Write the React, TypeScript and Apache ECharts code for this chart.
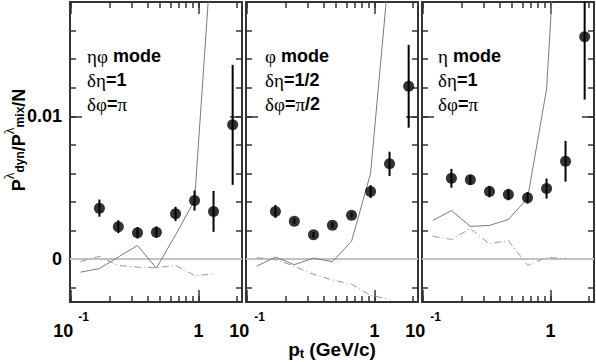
import React, { useEffect, useRef } from 'react';
import * as echarts from 'echarts';

// ---- shared axis data ----
const PT = [0.119, 0.167, 0.235, 0.332, 0.467, 0.66, 0.93, 1.31, 1.85];
const X_MIN = 0.0982;
const X_MAX = 2.19;
const Y_MIN = -0.003;
const Y_MAX = 0.018;
const X_TICKS_ALL = [0.1, 0.2, 0.3, 0.4, 0.5, 0.6, 0.7, 0.8, 0.9, 1, 2];
const X_TICKS_MAJOR = [0.1, 1];
const X_LABELS = [0.1, 1];
const Y_TICKS_ALL = [-0.002, 0, 0.002, 0.004, 0.006, 0.008, 0.01, 0.012, 0.014, 0.016];
const Y_TICKS_MAJOR = [0, 0.01];
const Y_LABELS = [0, 0.01];

// ---- panel 1: eta-phi mode ----
const ETAPHI_VAL = [0.00357, 0.00227, 0.00185, 0.00189, 0.00317, 0.0041, 0.00334, 0.0094];
const ETAPHI_ERR = [0.0006, 0.00045, 0.0004, 0.0004, 0.0005, 0.0007, 0.00143, 0.0042];
const ETAPHI_SOLID = [-0.00091, -0.00066, 0.00015, 0.00096, -0.00063, 0.0017, 0.0041, 0.0235];
const ETAPHI_DASHDOT = [-0.00016, 0.00019, -0.00044, -0.00056, -0.0006, -0.00044, -0.00114, -0.00105];

// ---- panel 2: phi mode ----
const PHI_VAL = [0.00334, 0.00266, 0.0017, 0.00238, 0.00308, 0.00473, 0.00667, 0.0121];
const PHI_ERR = [0.00045, 0.0002, 0.0002, 0.0002, 0.0002, 0.00045, 0.00085, 0.0029];
const PHI_SOLID = [-0.00049, 0.00014, -0.00039, 0.00007, -0.00018, 0.00125, 0.006, 0.0206];
const PHI_DASHDOT = [0.0001, -0.00002, -0.0005, -0.00106, -0.00146, -0.00175, -0.00254, -0.0028];

// ---- panel 3: eta mode ----
const ETA_VAL = [0.00566, 0.00555, 0.00473, 0.00452, 0.00429, 0.00494, 0.00685, 0.01557];
const ETA_ERR = [0.00066, 0.00035, 0.0004, 0.0004, 0.0004, 0.0007, 0.00143, 0.0044];
const ETA_SOLID = [0.0027, 0.0034, 0.00229, 0.00236, 0.00278, 0.00425, 0.0119, 0.034];
const ETA_DASHDOT = [0.0016, 0.00138, 0.00213, 0.00108, 0.00131, -0.00044, 0.00012, 0.00005];

const PANEL_TEXT = [
  ['{g|ηφ}{b| mode}', '{g|δη}{b|=1}', '{g|δφ}{b|=}{g|π}'],
  ['{g|φ}{b| mode}', '{g|δη}{b|=1/2}', '{g|δφ}{b|=}{g|π}{b|/2}'],
  ['{g|η}{b| mode}', '{g|δη}{b|=1}', '{g|δφ}{b|=}{g|π}'],
];

const PANELS = [
  { val: ETAPHI_VAL, err: ETAPHI_ERR, solid: ETAPHI_SOLID, dash: ETAPHI_DASHDOT },
  { val: PHI_VAL, err: PHI_ERR, solid: PHI_SOLID, dash: PHI_DASHDOT },
  { val: ETA_VAL, err: ETA_ERR, solid: ETA_SOLID, dash: ETA_DASHDOT },
];

const SANS = 'Liberation Sans, Arial, Helvetica, sans-serif';
const SERIF = 'Liberation Serif, Times New Roman, serif';
const FRAME = '#333';
const GRID_LEFT = [70, 246, 422];
const GRID_TOP = 2;
const GRID_W = 172;
const GRID_H = 300;
const TEXT_X = [87, 265, 438];

// y-axis title pieces: text, font, shift perpendicular to baseline (negative = raised)
const MAIN_FONT = 'bold 18px ' + SANS;
const SUP_FONT = '14px ' + SERIF;
const SUB_FONT = 'bold 12px ' + SANS;
const Y_TITLE = [
  { t: 'P', font: MAIN_FONT, dy: 0 },
  { t: 'λ', font: SUP_FONT, dy: -9 },
  { t: 'dyn', font: SUB_FONT, dy: 1.5 },
  { t: '/P', font: MAIN_FONT, dy: 0 },
  { t: 'λ', font: SUP_FONT, dy: -9 },
  { t: 'mix', font: SUB_FONT, dy: 1.5 },
  { t: '/N', font: MAIN_FONT, dy: 0 },
];

function measure(text: string, font: string) {
  const c = document.createElement('canvas').getContext('2d');
  if (!c) return text.length * 9;
  c.font = font;
  return c.measureText(text).width;
}

function buildOption() {
  const grid: any[] = [];
  const xAxis: any[] = [];
  const yAxis: any[] = [];
  const series: any[] = [];
  const graphic: any[] = [];

  PANELS.forEach((p, i) => {
    grid.push({
      left: GRID_LEFT[i], top: GRID_TOP, width: GRID_W, height: GRID_H,
      show: true, borderColor: FRAME, borderWidth: 2, backgroundColor: 'transparent',
    });
    const tickStyle = { color: FRAME, width: 1.5 };
    const baseX = {
      type: 'log', logBase: 10, min: X_MIN, max: X_MAX, gridIndex: i,
      axisLine: { show: false, onZero: false }, splitLine: { show: false }, axisLabel: { show: false },
    };
    const xLabel = {
      show: true,
      customValues: X_LABELS,
      margin: 9,
      formatter: (v: number) => (v < 0.5 ? '{b|10}{s|-1}' : '{b|1}'),
      rich: {
        b: { fontFamily: SANS, fontWeight: 'bold', fontSize: 18, color: '#000', lineHeight: 40 },
        s: { fontFamily: SANS, fontWeight: 'bold', fontSize: 12, color: '#000', verticalAlign: 'top', lineHeight: 14, padding: [0, 0, 0, 5] },
      },
    };
    xAxis.push(
      { ...baseX, position: 'bottom', axisTick: { show: true, inside: true, length: 6, customValues: X_TICKS_ALL, lineStyle: tickStyle } },
      { ...baseX, position: 'bottom', axisTick: { show: true, inside: true, length: 12, customValues: X_TICKS_MAJOR, lineStyle: tickStyle }, axisLabel: xLabel },
      { ...baseX, position: 'top', axisTick: { show: true, inside: true, length: 6, customValues: X_TICKS_ALL, lineStyle: tickStyle } },
      { ...baseX, position: 'top', axisTick: { show: true, inside: true, length: 12, customValues: X_TICKS_MAJOR, lineStyle: tickStyle } },
    );
    const baseY = {
      type: 'value', min: Y_MIN, max: Y_MAX, gridIndex: i,
      axisLine: { show: false, onZero: false }, splitLine: { show: false }, axisLabel: { show: false },
    };
    const yLabel = i === 0 ? {
      show: true, customValues: Y_LABELS, margin: 8,
      fontFamily: SANS, fontWeight: 'bold', fontSize: 18, color: '#000',
      formatter: (v: number) => (Math.abs(v) < 1e-9 ? '0' : '0.01'),
    } : { show: false };
    yAxis.push(
      { ...baseY, position: 'left', axisTick: { show: true, inside: true, length: 6, customValues: Y_TICKS_ALL, lineStyle: tickStyle } },
      { ...baseY, position: 'left', axisTick: { show: true, inside: true, length: 12, customValues: Y_TICKS_MAJOR, lineStyle: tickStyle }, axisLabel: yLabel },
      { ...baseY, position: 'right', axisTick: { show: true, inside: true, length: 6, customValues: Y_TICKS_ALL, lineStyle: tickStyle } },
      { ...baseY, position: 'right', axisTick: { show: true, inside: true, length: 12, customValues: Y_TICKS_MAJOR, lineStyle: tickStyle } },
    );

    const xi = 4 * i;
    const yi = 4 * i;
    const ptsX = PT.slice(1);
    series.push({
      type: 'line', xAxisIndex: xi, yAxisIndex: yi, silent: true, z: 3,
      data: p.solid.map((v, k) => [PT[k], v]),
      symbol: 'none', lineStyle: { color: '#7a7a7a', width: 1 },
      markLine: {
        silent: true, symbol: 'none', z: 1, label: { show: false },
        lineStyle: { color: '#c2c2c2', width: 2, type: 'solid' },
        data: [{ yAxis: 0 }],
      },
    });
    series.push({
      type: 'line', xAxisIndex: xi, yAxisIndex: yi, silent: true, z: 3,
      data: p.dash.map((v, k) => [PT[k], v]),
      symbol: 'none', lineStyle: { color: '#9a9a9a', width: 1, type: [7, 3, 1, 3] },
    });
    series.push({
      type: 'custom', xAxisIndex: xi, yAxisIndex: yi, silent: true, z: 4, clip: true,
      data: p.val.map((v, k) => [ptsX[k], v, p.err[k]]),
      renderItem: (params: any, api: any) => {
        const x = api.value(0);
        const y = api.value(1);
        const e = api.value(2);
        const a = api.coord([x, y + e]);
        const b = api.coord([x, y - e]);
        return {
          type: 'line',
          shape: { x1: a[0], y1: a[1], x2: b[0], y2: b[1] },
          style: { stroke: '#000', lineWidth: 2 },
        };
      },
    });
    series.push({
      type: 'scatter', xAxisIndex: xi, yAxisIndex: yi, silent: true, z: 5,
      data: p.val.map((v, k) => [ptsX[k], v]),
      symbol: 'circle', symbolSize: 11, itemStyle: { color: '#000' },
    });

    graphic.push({
      type: 'text', x: TEXT_X[i], y: 44, silent: true,
      style: {
        text: PANEL_TEXT[i].join('\n'),
        align: 'left', verticalAlign: 'top', fill: '#000',
        rich: {
          b: { fontFamily: SANS, fontWeight: 'bold', fontSize: 18, lineHeight: 24, fill: '#000' },
          g: { fontFamily: SERIF, fontSize: 19, lineHeight: 24, fill: '#000' },
        },
      },
    });
  });

  // rotated y-axis title built from measured pieces (reads bottom to top)
  const widths = Y_TITLE.map((f) => measure(f.t, f.font));
  const total = widths.reduce((a, b) => a + b, 0);
  const yc = 140;
  const xc = 18.5;
  let cum = 0;
  Y_TITLE.forEach((f, k) => {
    graphic.push({
      type: 'text', silent: true,
      x: xc + f.dy, y: yc + total / 2 - cum, rotation: Math.PI / 2,
      style: { text: f.t, font: f.font, fill: '#000', align: 'left', verticalAlign: 'middle' },
    });
    cum += widths[k];
  });

  graphic.push({
    type: 'text', x: 332, y: 349, silent: true,
    style: {
      text: '{m|p}{d|t}{m| (GeV/c)}',
      align: 'center', verticalAlign: 'middle', fill: '#000',
      rich: {
        m: { fontFamily: SANS, fontWeight: 'bold', fontSize: 19, lineHeight: 26, fill: '#000' },
        d: { fontFamily: SANS, fontWeight: 'bold', fontSize: 13, padding: [8, 0, 0, 0], fill: '#000' },
      },
    },
  });

  return {
    animation: false,
    backgroundColor: '#fff',
    grid, xAxis, yAxis, series, graphic,
  };
}

export default function App() {
  const ref = useRef<HTMLDivElement>(null);
  useEffect(() => {
    if (!ref.current) return;
    const chart = echarts.init(ref.current, undefined, { renderer: 'svg' });
    chart.setOption(buildOption() as any);
    return () => chart.dispose();
  }, []);
  return (
    <div
      ref={ref}
      style={{ position: 'absolute', left: 0, top: 0, width: 596, height: 362, background: '#fff' }}
    />
  );
}
